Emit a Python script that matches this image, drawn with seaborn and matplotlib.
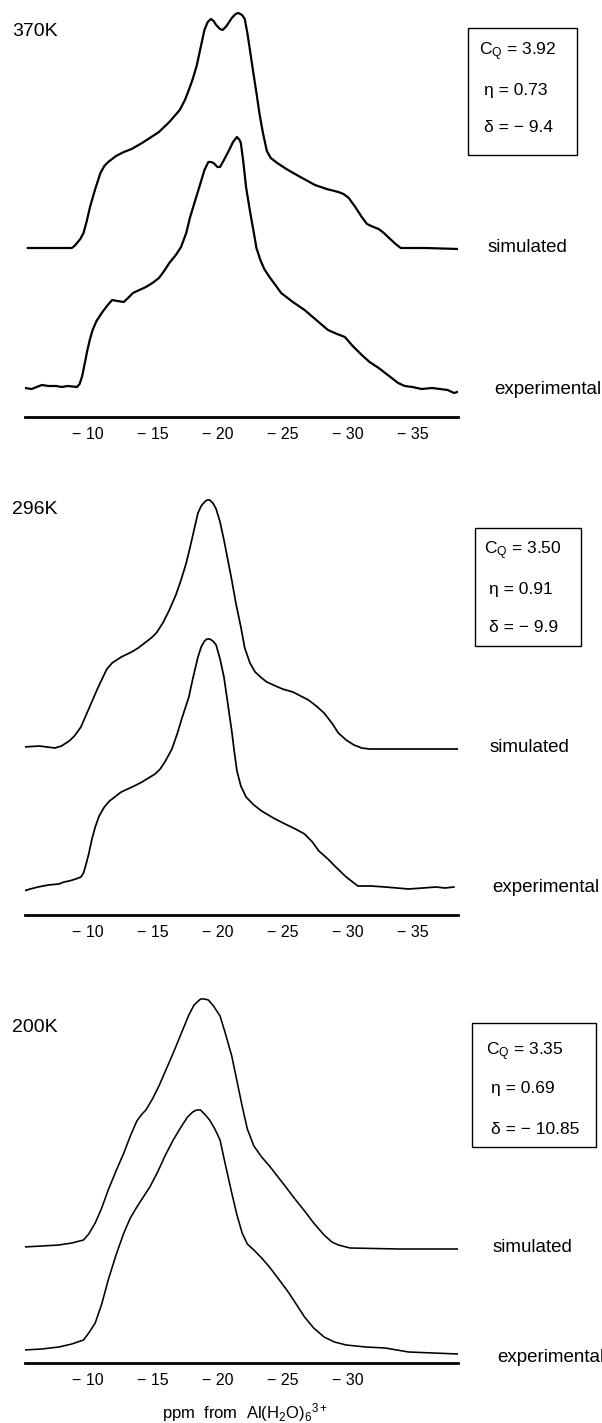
import matplotlib
matplotlib.use("Agg")
import matplotlib.pyplot as plt
from matplotlib.patches import Rectangle
import seaborn as sns
import numpy as np
import pandas as pd

# ---------------- data (ppm, intensity) ----------------
# 370 K
sim370_ppm = [-5.4, -7.0, -8.8, -9.0, -9.2, -9.45, -9.7, -9.95, -10.2, -10.6, -11.0, -11.3, -11.6, -12.2, -12.8,
              -13.4, -14.2, -14.8, -15.5, -16.3, -16.7, -17.1, -17.5, -17.8, -18.1, -18.4, -18.7, -19.0, -19.25,
              -19.5, -19.7, -19.9, -20.2, -20.4, -20.7, -21.1, -21.4, -21.6, -21.9, -22.1, -22.3, -22.5, -22.75,
              -23.0, -23.25, -23.5, -23.8, -24.1, -24.6, -25.3, -26.1, -26.8, -27.5, -28.4, -29.3, -29.7, -30.1,
              -30.6, -31.1, -31.5, -32.0, -32.4, -32.8, -33.2, -33.7, -34.1, -36.0, -38.5]
sim370_int = [0, 0, 0, 2, 5, 9, 15, 27, 41, 59, 75, 82, 86, 92, 96,
              99, 105, 110, 116, 126, 132, 138, 148, 158, 169, 182, 200, 218, 226,
              229, 227, 223, 219, 218, 222, 230, 234, 235, 233, 229, 215, 198, 176,
              155, 133, 115, 97, 90, 85, 79, 73, 68, 63, 59, 56, 54, 50,
              41, 31, 24, 21, 19, 15, 10, 4, 0, 0, -1]
exp370_ppm = [-5.2, -5.7, -6.1, -6.5, -7.0, -7.6, -8.0, -8.5, -9.2, -9.4, -9.6, -9.8, -10.0, -10.2, -10.4,
              -10.7, -11.1, -11.5, -11.9, -12.3, -12.8, -13.2, -13.5, -14.0, -14.5, -15.0, -15.5, -15.9, -16.3,
              -16.8, -17.2, -17.6, -17.9, -18.3, -18.7, -19.0, -19.3, -19.5, -19.7, -20.0, -20.2, -20.5, -20.9,
              -21.2, -21.5, -21.7, -21.8, -22.0, -22.2, -22.5, -22.8, -23.0, -23.3, -23.6, -24.0, -24.4, -24.9,
              -25.8, -26.7, -27.6, -28.5, -29.2, -29.8, -30.4, -31.1, -31.7, -32.4, -33.1, -33.9, -34.4, -35.0,
              -35.7, -36.5, -37.1, -37.7, -38.2, -38.7]
exp370_int = [0, -1, 1, 3, 2, 2, 1, 2, 1, 4, 12, 25, 38, 49, 58,
              67, 75, 82, 88, 87, 86, 91, 95, 98, 101, 105, 110, 117, 125,
              133, 141, 155, 171, 188, 205, 218, 226, 226, 225, 221, 221, 228, 238,
              246, 251, 248, 245, 225, 201, 177, 155, 140, 128, 119, 111, 104, 95,
              86, 78, 68, 58, 54, 51, 42, 33, 26, 20, 13, 5, 2, 1,
              -1, 0, -1, -2, -5, -3]

# 296 K
sim296_ppm = [-5.1, -6.3, -7.5, -8.0, -8.6, -9.0, -9.5, -9.9, -10.4, -10.8, -11.2, -11.5, -11.9, -12.6, -13.4,
              -13.9, -14.4, -14.9, -15.3, -15.8, -16.3, -16.8, -17.2, -17.6, -17.9, -18.2, -18.5, -18.75, -19.0,
              -19.2, -19.4, -19.65, -19.9, -20.2, -20.5, -20.8, -21.1, -21.4, -21.8, -22.1, -22.5, -22.9, -23.4,
              -23.8, -24.3, -25.0, -25.8, -26.4, -27.0, -27.6, -28.2, -28.8, -29.3, -29.9, -30.5, -31.1, -31.7,
              -35.0, -38.7]
sim296_int = [1, 2, 0, 2, 7, 12, 21, 33, 48, 60, 71, 79, 85, 91, 96,
              100, 105, 110, 115, 125, 138, 153, 168, 185, 201, 218, 235, 242, 246,
              248, 248, 245, 239, 226, 208, 188, 168, 146, 121, 100, 85, 76, 70,
              66, 63, 59, 56, 52, 48, 42, 35, 25, 15, 8, 3, 0, -1,
              -1, -1]
exp296_ppm = [-5.1, -5.6, -6.2, -7.0, -7.8, -8.2, -8.6, -9.1, -9.5, -9.7, -9.9, -10.1, -10.35, -10.6, -10.9,
              -11.3, -11.7, -12.2, -12.6, -13.1, -13.6, -14.2, -14.7, -15.2, -15.6, -16.0, -16.5, -16.9, -17.3,
              -17.8, -18.1, -18.5, -18.75, -19.0, -19.2, -19.4, -19.65, -19.9, -20.2, -20.5, -20.8, -21.1, -21.3,
              -21.5, -21.8, -22.2, -22.8, -23.4, -24.3, -25.2, -26.0, -26.7, -27.3, -27.8, -28.5, -29.1, -29.9,
              -30.8, -31.8, -32.9, -33.8, -34.7, -35.8, -36.8, -37.5, -38.2]
exp296_int = [-2, 0, 2, 4, 5, 7, 8, 10, 12, 16, 25, 35, 50, 62, 73,
              82, 88, 93, 97, 100, 103, 107, 111, 115, 120, 128, 140, 155, 172,
              192, 210, 232, 242, 248, 250, 250, 248, 244, 230, 212, 185, 158, 137,
              118, 103, 92, 84, 78, 71, 65, 60, 55, 47, 38, 30, 22, 12,
              3, 3, 2, 1, 0, 1, 2, 1, 2]

# 200 K
sim200_ppm = [-5.1, -6.5, -7.8, -8.8, -9.7, -10.1, -10.6, -11.1, -11.6, -12.2, -12.8, -13.3, -13.8, -14.2, -14.5,
              -15.0, -15.5, -16.0, -16.6, -17.2, -17.8, -18.2, -18.7, -19.0, -19.3, -19.7, -20.2, -20.6, -21.1,
              -21.5, -21.9, -22.3, -22.8, -23.4, -24.0, -24.6, -25.2, -25.9, -26.7, -27.4, -28.2, -28.8, -29.3,
              -30.2, -34.0, -38.5]
sim200_int = [1, 2, 3, 5, 8, 14, 25, 40, 58, 77, 95, 112, 127, 134, 138,
              149, 162, 177, 195, 214, 233, 243, 249, 249, 248, 242, 232, 215, 192,
              167, 142, 119, 102, 91, 82, 72, 62, 50, 37, 25, 13, 6, 3,
              0, -1, -1]
exp200_ppm = [-5.1, -6.5, -7.8, -8.8, -9.7, -10.1, -10.6, -11.1, -11.6, -12.2, -12.8, -13.3, -13.8, -14.3, -14.8,
              -15.4, -16.0, -16.6, -17.2, -17.7, -18.1, -18.4, -18.7, -19.0, -19.4, -19.8, -20.2, -20.6, -21.1,
              -21.5, -21.9, -22.3, -22.8, -23.4, -24.0, -24.7, -25.5, -26.1, -26.7, -27.4, -28.2, -29.0, -29.9,
              -31.4, -32.9, -33.8, -34.7, -36.6, -38.5]
exp200_int = [0, 1, 3, 6, 10, 17, 27, 46, 70, 95, 117, 132, 143, 153, 163,
              178, 195, 210, 223, 233, 238, 240, 240, 236, 230, 221, 210, 186, 157,
              135, 117, 106, 100, 92, 83, 71, 57, 45, 33, 22, 13, 8, 5,
              3, 2, 0, -2, -3, -4]

temps = ["370K", "296K", "200K"]
cq_vals = ["3.92", "3.50", "3.35"]
eta_vals = ["0.73", "0.91", "0.69"]
delta_vals = ["9.4", "9.9", "10.85"]
tick_sets = [[-10, -15, -20, -25, -30, -35],
             [-10, -15, -20, -25, -30, -35],
             [-10, -15, -20, -25, -30, -35]]
tick_label_sets = [["− 10", "− 15", "− 20", "− 25", "− 30", "− 35"],
                   ["− 10", "− 15", "− 20", "− 25", "− 30", "− 35"],
                   ["− 10", "− 15", "− 20", "− 25", "− 30", ""]]
series_labels = ["simulated", "experimental"]
xlabel_text = r"ppm  from  Al(H$_2$O)$_6$$^{3+}$"

# ---------------- style ----------------
sns.set_theme(style="white")
FAM = ["Liberation Sans", "DejaVu Sans"]
plt.rcParams["font.family"] = FAM
plt.rcParams["text.color"] = "black"
plt.rcParams["xtick.color"] = "black"
plt.rcParams["mathtext.fontset"] = "custom"
plt.rcParams["mathtext.rm"] = "Liberation Sans"
plt.rcParams["mathtext.it"] = "Liberation Sans:italic"
plt.rcParams["mathtext.bf"] = "Liberation Sans:bold"

W, H = 602, 1423
fig = plt.figure(figsize=(W / 100, H / 100), dpi=100)
fig.patch.set_facecolor("white")

def fx(px):
    return px / W

def fy(py):
    return 1 - py / H

X_LEFT, X_RIGHT = 25, 458
XLIM = (-5.2, -38.5)

panels = [
    dict(top=0, axis=417, exp_base=388, sim_base=248, lw=1.6,
         sim=(sim370_ppm, sim370_int), exp=(exp370_ppm, exp370_int),
         temp_y=32, box=(468, 28, 577, 155), box_text_x=479, box_text_y=(52, 90, 128),
         sim_lab=(488, 248), exp_lab=(494, 390)),
    dict(top=470, axis=915, exp_base=889, sim_base=748, lw=1.25,
         sim=(sim296_ppm, sim296_int), exp=(exp296_ppm, exp296_int),
         temp_y=510, box=(475, 528, 581, 646), box_text_x=484, box_text_y=(551, 590, 627),
         sim_lab=(490, 748), exp_lab=(492, 887)),
    dict(top=960, axis=1363, exp_base=1350, sim_base=1248, lw=1.15,
         sim=(sim200_ppm, sim200_int), exp=(exp200_ppm, exp200_int),
         temp_y=1027, box=(472, 1023, 596, 1147), box_text_x=486, box_text_y=(1052, 1088, 1130),
         sim_lab=(493, 1248), exp_lab=(497, 1357)),
]

for i, p in enumerate(panels):
    h = p["axis"] - p["top"]
    ax = fig.add_axes([fx(X_LEFT), fy(p["axis"]), fx(X_RIGHT) - fx(X_LEFT), h / H])
    ax.set_facecolor("none")
    sim_off = p["axis"] - p["sim_base"]
    exp_off = p["axis"] - p["exp_base"]
    df_sim = pd.DataFrame({"ppm": p["sim"][0], "y": np.array(p["sim"][1]) + sim_off})
    df_exp = pd.DataFrame({"ppm": p["exp"][0], "y": np.array(p["exp"][1]) + exp_off})
    sns.lineplot(data=df_sim, x="ppm", y="y", ax=ax, color="black", lw=p["lw"], sort=False, estimator=None)
    sns.lineplot(data=df_exp, x="ppm", y="y", ax=ax, color="black", lw=p["lw"], sort=False, estimator=None)
    for ln in ax.lines:
        ln.set_solid_joinstyle("round")
        ln.set_solid_capstyle("round")
    ax.set_xlim(*XLIM)
    ax.set_ylim(0, h)
    for s in ["left", "right", "top"]:
        ax.spines[s].set_visible(False)
    ax.spines["bottom"].set_linewidth(2.0)
    ax.spines["bottom"].set_color("black")
    ax.set_yticks([])
    ax.set_xticks(tick_sets[i])
    ax.set_xticklabels(tick_label_sets[i], fontsize=11.5, family=FAM)
    ax.tick_params(axis="x", direction="out", length=3, width=1, pad=4, colors="black")
    ax.set_xlabel("")
    ax.set_ylabel("")

    # temperature label
    fig.text(fx(12), fy(p["temp_y"]), temps[i], fontsize=14, va="center", ha="left", family=FAM)
    # parameter box
    x0, y0, x1, y1 = p["box"]
    fig.patches.append(Rectangle((fx(x0), fy(y1)), fx(x1) - fx(x0), (y1 - y0) / H,
                                 transform=fig.transFigure, fill=False, ec="black", lw=1.0))
    ty = p["box_text_y"]
    fig.text(fx(p["box_text_x"]), fy(ty[0]), r"C$_\mathregular{Q}$ = " + cq_vals[i], fontsize=12.5,
             va="center", ha="left")
    fig.text(fx(p["box_text_x"] + 5), fy(ty[1]), "η = " + eta_vals[i], fontsize=12.5,
             va="center", ha="left", family=FAM)
    fig.text(fx(p["box_text_x"] + 5), fy(ty[2]), "δ = − " + delta_vals[i], fontsize=12.5,
             va="center", ha="left", family=FAM)
    # series labels
    fig.text(fx(p["sim_lab"][0]), fy(p["sim_lab"][1]), series_labels[0], fontsize=13.5,
             va="center", ha="left", family=FAM)
    fig.text(fx(p["exp_lab"][0]), fy(p["exp_lab"][1]), series_labels[1], fontsize=13.5,
             va="center", ha="left", family=FAM)

fig.text(fx(245), fy(1413), xlabel_text, fontsize=12, ha="center", va="center")

fig.savefig("out.png", dpi=100, facecolor="white")
